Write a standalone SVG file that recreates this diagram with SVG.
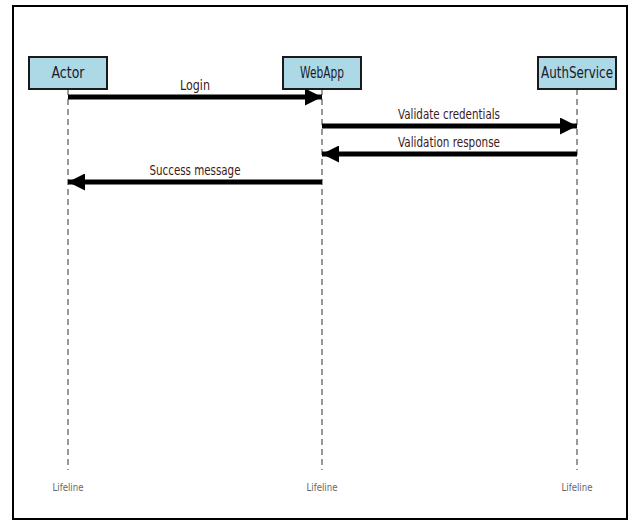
<svg xmlns="http://www.w3.org/2000/svg" width="636" height="527" viewBox="0 0 636 527">
<defs>
<style>
.box{fill:#add8e6;stroke:#1a1a1a;stroke-width:2}
.name{font-family:"DejaVu Sans",sans-serif;font-size:15px;fill:#1a1a2a;text-anchor:middle}
.msg{font-family:"DejaVu Sans",sans-serif;font-size:14px;fill:#3a1a1a;text-anchor:middle}
.life{stroke:#555;stroke-width:1.2;stroke-dasharray:6,4;fill:none}
.lifetxt{font-family:"DejaVu Sans",sans-serif;font-size:11px;fill:#666;text-anchor:middle}
.arrow{stroke:#000;stroke-width:5;fill:none}
</style>
<marker id="ah" viewBox="0 0 10 10" refX="10" refY="5" markerWidth="4.4" markerHeight="3.4" markerUnits="strokeWidth" orient="auto">
<path d="M0,0 L10,5 L0,10 z" fill="#000"/>
</marker>
</defs>
<rect x="0" y="0" width="636" height="527" fill="#fff"/>
<rect x="13" y="6" width="614" height="513" fill="none" stroke="#000" stroke-width="2"/>
<g id="lifelines">
<line class="life" x1="68" y1="89" x2="68" y2="470"/>
<line class="life" x1="322" y1="89" x2="322" y2="470"/>
<line class="life" x1="577" y1="89" x2="577" y2="470"/>
<text class="lifetxt" x="68" y="491" textLength="31" lengthAdjust="spacingAndGlyphs">Lifeline</text>
<text class="lifetxt" x="322" y="491" textLength="31" lengthAdjust="spacingAndGlyphs">Lifeline</text>
<text class="lifetxt" x="577" y="491" textLength="31" lengthAdjust="spacingAndGlyphs">Lifeline</text>
</g>
<g id="actor">
<rect class="box" x="29" y="57" width="78" height="32"/>
<text class="name" x="68" y="78" textLength="33" lengthAdjust="spacingAndGlyphs">Actor</text>
</g>
<g id="webapp">
<rect class="box" x="283" y="57" width="78" height="32"/>
<text class="name" x="322" y="78" textLength="44" lengthAdjust="spacingAndGlyphs">WebApp</text>
</g>
<g id="authservice">
<rect class="box" x="538" y="57" width="78" height="32"/>
<text class="name" x="577" y="78" textLength="72" lengthAdjust="spacingAndGlyphs">AuthService</text>
</g>
<g id="connectors">
<line class="arrow" x1="68" y1="97" x2="322" y2="97" marker-end="url(#ah)"/>
<text class="msg" x="195" y="90" textLength="30" lengthAdjust="spacingAndGlyphs">Login</text>
<line class="arrow" x1="322" y1="126" x2="577" y2="126" marker-end="url(#ah)"/>
<text class="msg" x="449" y="119" textLength="102" lengthAdjust="spacingAndGlyphs">Validate credentials</text>
<line class="arrow" x1="577" y1="154" x2="322" y2="154" marker-end="url(#ah)"/>
<text class="msg" x="449" y="147" textLength="102" lengthAdjust="spacingAndGlyphs">Validation response</text>
<line class="arrow" x1="322" y1="182" x2="68" y2="182" marker-end="url(#ah)"/>
<text class="msg" x="195" y="175" textLength="91" lengthAdjust="spacingAndGlyphs">Success message</text>
</g>
</svg>
